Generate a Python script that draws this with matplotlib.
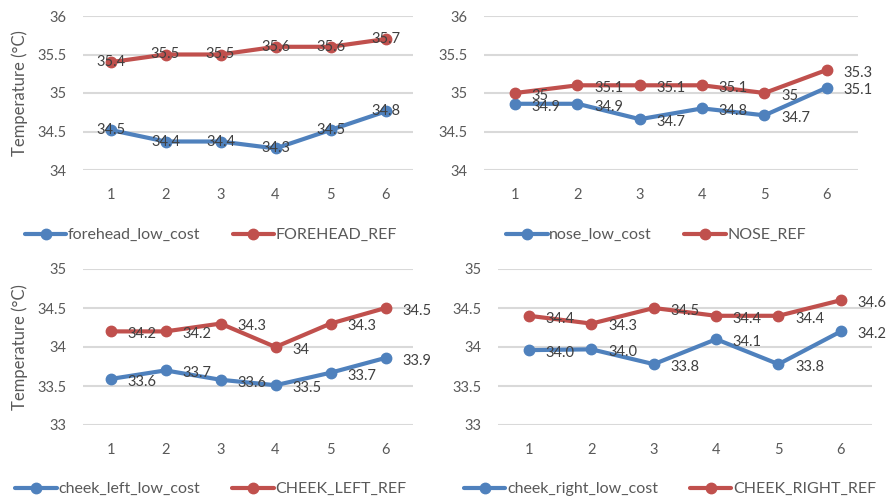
import matplotlib.pyplot as plt

plt.rcParams['font.family'] = ['Lato', 'DejaVu Sans']

x = [1, 2, 3, 4, 5, 6]

forehead_low = [34.52, 34.37, 34.37, 34.28, 34.52, 34.76]
forehead_ref = [35.4, 35.5, 35.5, 35.6, 35.6, 35.7]
nose_low = [34.86, 34.86, 34.66, 34.80, 34.71, 35.07]
nose_ref = [35.0, 35.1, 35.1, 35.1, 35.0, 35.3]
cheek_left_low = [33.59, 33.70, 33.58, 33.51, 33.67, 33.86]
cheek_left_ref = [34.2, 34.2, 34.3, 34.0, 34.3, 34.5]
cheek_right_low = [33.96, 33.97, 33.78, 34.10, 33.78, 34.2]
cheek_right_ref = [34.4, 34.3, 34.5, 34.4, 34.4, 34.6]

BLUE = '#4F81BD'
RED = '#C0504D'
W, H = 890, 499


def gen(v):
    return f"{round(v, 1):g}"


def fix(v):
    return f"{v:.1f}"


# (left, top, right, bottom) in pixels, y range, series, label style, legend centre
panels = [
    dict(box=(83, 16, 413, 170), ylim=(34, 36), low=forehead_low, ref=forehead_ref,
         names=('forehead_low_cost', 'FOREHEAD_REF'), fmt=(gen, gen), pos='center',
         leg=(211, 235), ylabel=True),
    dict(box=(484, 16, 858, 170), ylim=(34, 36), low=nose_low, ref=nose_ref,
         names=('nose_low_cost', 'NOSE_REF'), fmt=(gen, gen), pos='right',
         leg=(656, 235), ylabel=False),
    dict(box=(83, 269, 413, 425), ylim=(33, 35), low=cheek_left_low, ref=cheek_left_ref,
         names=('cheek_left_low_cost', 'CHEEK_LEFT_REF'), fmt=(gen, gen), pos='right',
         leg=(211, 489), ylabel=True),
    dict(box=(498, 269, 872, 425), ylim=(33, 35), low=cheek_right_low, ref=cheek_right_ref,
         names=('cheek_right_low_cost', 'CHEEK_RIGHT_REF'), fmt=(fix, gen), pos='right',
         leg=(670, 489), ylabel=False),
]

fig = plt.figure(figsize=(W / 100, H / 100), dpi=100)

for p in panels:
    l, t, r, b = p['box']
    ax = fig.add_axes([l / W, 1 - b / H, (r - l) / W, (b - t) / H])
    lines = []
    for vals, color, name, fmt in [(p['low'], BLUE, p['names'][0], p['fmt'][0]),
                                   (p['ref'], RED, p['names'][1], p['fmt'][1])]:
        ln, = ax.plot(x, vals, color=color, lw=3, marker='o', ms=7.5, label=name,
                      solid_capstyle='round', zorder=3)
        lines.append(ln)
        for xi, v in zip(x, vals):
            if p['pos'] == 'center':
                ax.annotate(fmt(v), (xi, v), ha='center', va='center',
                            fontsize=10.5, color='#404040', zorder=4)
            else:
                ax.annotate(fmt(v), (xi, v), xytext=(12, -2), textcoords='offset points',
                            ha='left', va='center', fontsize=10.5, color='#404040', zorder=4)
    lo, hi = p['ylim']
    ticks = [lo, lo + 0.5, lo + 1, lo + 1.5, hi]
    ax.set_ylim(lo, hi)
    ax.set_xlim(0.5, 6.5)
    ax.set_yticks(ticks)
    ax.set_yticklabels([gen(v) for v in ticks])
    ax.set_xticks(x)
    ax.grid(axis='y', color='#D9D9D9', lw=1.5)
    ax.set_axisbelow(True)
    for s in ax.spines.values():
        s.set_visible(False)
    ax.tick_params(length=0, labelsize=10.5, labelcolor='#595959')
    ax.tick_params(axis='y', pad=12)
    ax.tick_params(axis='x', pad=13)
    if p['ylabel']:
        fig.text(20 / W, 1 - ((t + b) / 2) / H, 'Temperature (°C)', rotation=90,
                 ha='center', va='center', fontsize=12, color='#595959')
    cx, cy = p['leg']
    fig.legend(handles=lines, loc='center', bbox_to_anchor=(cx / W, 1 - cy / H),
               ncol=2, frameon=False, fontsize=11.5, handlelength=2.6,
               columnspacing=2.0, handletextpad=0.1, labelcolor='#595959')

fig.savefig('out.png', dpi=100)
